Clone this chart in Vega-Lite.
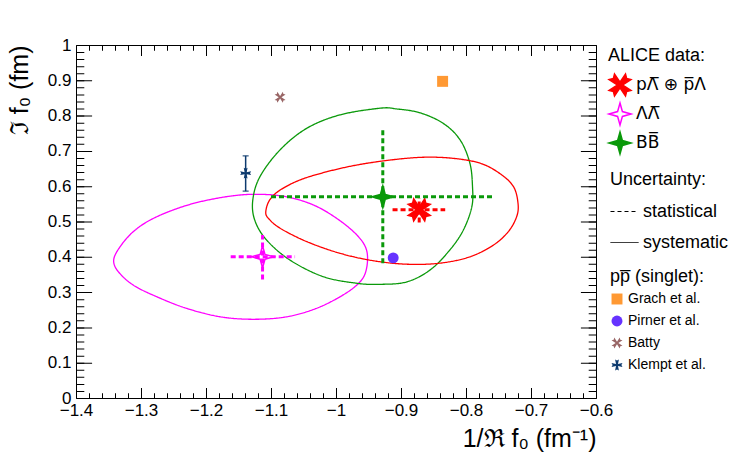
{
  "$schema": "https://vega.github.io/schema/vega-lite/v6.json",
  "width": 520,
  "height": 353,
  "autosize": {"type": "none"},
  "padding": {"left": 76, "top": 45, "right": 151, "bottom": 69},
  "background": "white",
  "config": {
    "font": "Liberation Sans",
    "view": {"stroke": "black", "strokeWidth": 1},
    "axis": {"grid": false, "domain": false, "labelColor": "black", "titleColor": "black", "tickColor": "black", "labelFont": "Liberation Sans", "titleFont": "Liberation Sans", "titleFontWeight": "normal", "labelFontSize": 17, "titleFontSize": 25, "labelFlush": false, "labelOverlap": false, "labelBound": false},
    "legend": {"titleFont": "Liberation Sans", "labelFont": "Liberation Sans", "titleFontSize": 18, "titleFontWeight": "normal", "titleColor": "black", "labelColor": "black", "labelFontSize": 18, "offset": 10, "padding": 2}
  },
  "datasets": {
    "ell": [
      {"s": "\u039b\u039b\u0305", "i": 1, "x": -1.342, "y": 0.391},
      {"s": "\u039b\u039b\u0305", "i": 2, "x": -1.332, "y": 0.429},
      {"s": "\u039b\u039b\u0305", "i": 3, "x": -1.312, "y": 0.471},
      {"s": "\u039b\u039b\u0305", "i": 4, "x": -1.286, "y": 0.504},
      {"s": "\u039b\u039b\u0305", "i": 5, "x": -1.250, "y": 0.533},
      {"s": "\u039b\u039b\u0305", "i": 6, "x": -1.209, "y": 0.556},
      {"s": "\u039b\u039b\u0305", "i": 7, "x": -1.158, "y": 0.573},
      {"s": "\u039b\u039b\u0305", "i": 8, "x": -1.117, "y": 0.577},
      {"s": "\u039b\u039b\u0305", "i": 9, "x": -1.076, "y": 0.570},
      {"s": "\u039b\u039b\u0305", "i": 10, "x": -1.035, "y": 0.547},
      {"s": "\u039b\u039b\u0305", "i": 11, "x": -0.999, "y": 0.509},
      {"s": "\u039b\u039b\u0305", "i": 12, "x": -0.968, "y": 0.462},
      {"s": "\u039b\u039b\u0305", "i": 13, "x": -0.953, "y": 0.419},
      {"s": "\u039b\u039b\u0305", "i": 14, "x": -0.953, "y": 0.367},
      {"s": "\u039b\u039b\u0305", "i": 15, "x": -0.963, "y": 0.329},
      {"s": "\u039b\u039b\u0305", "i": 16, "x": -0.989, "y": 0.292},
      {"s": "\u039b\u039b\u0305", "i": 17, "x": -1.030, "y": 0.254},
      {"s": "\u039b\u039b\u0305", "i": 18, "x": -1.076, "y": 0.230},
      {"s": "\u039b\u039b\u0305", "i": 19, "x": -1.127, "y": 0.223},
      {"s": "\u039b\u039b\u0305", "i": 20, "x": -1.178, "y": 0.230},
      {"s": "\u039b\u039b\u0305", "i": 21, "x": -1.230, "y": 0.254},
      {"s": "\u039b\u039b\u0305", "i": 22, "x": -1.276, "y": 0.287},
      {"s": "\u039b\u039b\u0305", "i": 23, "x": -1.312, "y": 0.320},
      {"s": "\u039b\u039b\u0305", "i": 24, "x": -1.335, "y": 0.358},
      {"s": "BB\u0305", "i": 1, "x": -0.932, "y": 0.821},
      {"s": "BB\u0305", "i": 2, "x": -0.994, "y": 0.802},
      {"s": "BB\u0305", "i": 3, "x": -1.045, "y": 0.764},
      {"s": "BB\u0305", "i": 4, "x": -1.086, "y": 0.703},
      {"s": "BB\u0305", "i": 5, "x": -1.117, "y": 0.627},
      {"s": "BB\u0305", "i": 6, "x": -1.128, "y": 0.561},
      {"s": "BB\u0305", "i": 7, "x": -1.125, "y": 0.504},
      {"s": "BB\u0305", "i": 8, "x": -1.107, "y": 0.448},
      {"s": "BB\u0305", "i": 9, "x": -1.071, "y": 0.391},
      {"s": "BB\u0305", "i": 10, "x": -1.020, "y": 0.344},
      {"s": "BB\u0305", "i": 11, "x": -0.968, "y": 0.325},
      {"s": "BB\u0305", "i": 12, "x": -0.932, "y": 0.322},
      {"s": "BB\u0305", "i": 13, "x": -0.891, "y": 0.329},
      {"s": "BB\u0305", "i": 14, "x": -0.855, "y": 0.363},
      {"s": "BB\u0305", "i": 15, "x": -0.825, "y": 0.419},
      {"s": "BB\u0305", "i": 16, "x": -0.804, "y": 0.476},
      {"s": "BB\u0305", "i": 17, "x": -0.791, "y": 0.542},
      {"s": "BB\u0305", "i": 18, "x": -0.790, "y": 0.599},
      {"s": "BB\u0305", "i": 19, "x": -0.794, "y": 0.665},
      {"s": "BB\u0305", "i": 20, "x": -0.809, "y": 0.731},
      {"s": "BB\u0305", "i": 21, "x": -0.835, "y": 0.778},
      {"s": "BB\u0305", "i": 22, "x": -0.871, "y": 0.808},
      {"s": "BB\u0305", "i": 23, "x": -0.907, "y": 0.819},
      {"s": "p\u039b\u0305 \u2295 p\u0305\u039b", "i": 1, "x": -1.108, "y": 0.528},
      {"s": "p\u039b\u0305 \u2295 p\u0305\u039b", "i": 2, "x": -1.102, "y": 0.561},
      {"s": "p\u039b\u0305 \u2295 p\u0305\u039b", "i": 3, "x": -1.086, "y": 0.589},
      {"s": "p\u039b\u0305 \u2295 p\u0305\u039b", "i": 4, "x": -1.055, "y": 0.618},
      {"s": "p\u039b\u0305 \u2295 p\u0305\u039b", "i": 5, "x": -1.014, "y": 0.641},
      {"s": "p\u039b\u0305 \u2295 p\u0305\u039b", "i": 6, "x": -0.968, "y": 0.660},
      {"s": "p\u039b\u0305 \u2295 p\u0305\u039b", "i": 7, "x": -0.917, "y": 0.674},
      {"s": "p\u039b\u0305 \u2295 p\u0305\u039b", "i": 8, "x": -0.866, "y": 0.682},
      {"s": "p\u039b\u0305 \u2295 p\u0305\u039b", "i": 9, "x": -0.820, "y": 0.679},
      {"s": "p\u039b\u0305 \u2295 p\u0305\u039b", "i": 10, "x": -0.778, "y": 0.665},
      {"s": "p\u039b\u0305 \u2295 p\u0305\u039b", "i": 11, "x": -0.748, "y": 0.636},
      {"s": "p\u039b\u0305 \u2295 p\u0305\u039b", "i": 12, "x": -0.727, "y": 0.599},
      {"s": "p\u039b\u0305 \u2295 p\u0305\u039b", "i": 13, "x": -0.720, "y": 0.552},
      {"s": "p\u039b\u0305 \u2295 p\u0305\u039b", "i": 14, "x": -0.722, "y": 0.514},
      {"s": "p\u039b\u0305 \u2295 p\u0305\u039b", "i": 15, "x": -0.735, "y": 0.471},
      {"s": "p\u039b\u0305 \u2295 p\u0305\u039b", "i": 16, "x": -0.758, "y": 0.433},
      {"s": "p\u039b\u0305 \u2295 p\u0305\u039b", "i": 17, "x": -0.794, "y": 0.400},
      {"s": "p\u039b\u0305 \u2295 p\u0305\u039b", "i": 18, "x": -0.840, "y": 0.382},
      {"s": "p\u039b\u0305 \u2295 p\u0305\u039b", "i": 19, "x": -0.891, "y": 0.379},
      {"s": "p\u039b\u0305 \u2295 p\u0305\u039b", "i": 20, "x": -0.943, "y": 0.389},
      {"s": "p\u039b\u0305 \u2295 p\u0305\u039b", "i": 21, "x": -0.994, "y": 0.410},
      {"s": "p\u039b\u0305 \u2295 p\u0305\u039b", "i": 22, "x": -1.045, "y": 0.443},
      {"s": "p\u039b\u0305 \u2295 p\u0305\u039b", "i": 23, "x": -1.086, "y": 0.481},
      {"s": "p\u039b\u0305 \u2295 p\u0305\u039b", "i": 24, "x": -1.104, "y": 0.509}
    ],
    "alice": [
      {"s": "p\u039b\u0305 \u2295 p\u0305\u039b", "x": -0.872, "y": 0.533, "xlo": -0.913, "xhi": -0.832, "ylo": 0.497, "yhi": 0.566},
      {"s": "\u039b\u039b\u0305", "x": -1.113, "y": 0.400, "xlo": -1.162, "xhi": -1.063, "ylo": 0.336, "yhi": 0.462},
      {"s": "BB\u0305", "x": -0.928, "y": 0.570, "xlo": -1.100, "xhi": -0.757, "ylo": 0.382, "yhi": 0.761}
    ],
    "ref": [
      {"r": "Grach et al.", "x": -0.836, "y": 0.897},
      {"r": "Pirner et al.", "x": -0.912, "y": 0.397},
      {"r": "Batty", "x": -1.086, "y": 0.852},
      {"r": "Klempt et al.", "x": -1.139, "y": 0.637, "ylo": 0.586, "yhi": 0.686}
    ]
  },
  "layer": [
    {
      "data": {"name": "alice"},
      "mark": {"type": "point", "filled": true, "opacity": 1, "size": 484, "strokeWidth": 1.5},
      "encoding": {
        "x": {"field": "x", "type": "quantitative", "scale": {"domain": [-1.4, -0.6], "nice": false, "zero": false},
          "axis": {"orient": "bottom", "offset": -5.25, "values": [-1.4, -0.6], "labels": true, "labelExpr": "''", "ticks": false, "title": null, "domain": true, "domainColor": "#000000", "domainWidth": 10.5, "domainDash": [1, 64], "domainDashOffset": 0.5}},
        "y": {"field": "y", "type": "quantitative", "scale": {"domain": [0, 1], "nice": false, "zero": false},
          "axis": {"orient": "left", "offset": -7.8, "values": [0, 1], "labels": true, "labelExpr": "''", "ticks": false, "title": null, "domain": true, "domainColor": "#000000", "domainWidth": 15.6, "domainDash": [1, 34.3], "domainDashOffset": 0.5}},
        "shape": {"field": "s", "type": "nominal",
          "scale": {"domain": ["p\u039b\u0305 \u2295 p\u0305\u039b", "\u039b\u039b\u0305", "BB\u0305"], "range": ["M0,-0.25 L0.5,-1 L0.6,-0.6 L1,-0.5 L0.25,0 L1,0.5 L0.6,0.6 L0.5,1 L0,0.25 L-0.5,1 L-0.6,0.6 L-1,0.5 L-0.25,0 L-1,-0.5 L-0.6,-0.6 L-0.5,-1 Z", "M0,-1 L0.22,-0.22 L1,0 L0.22,0.22 L0,1 L-0.22,0.22 L-1,0 L-0.22,-0.22 Z", "M0,-1 L0.22,-0.22 L1,0 L0.22,0.22 L0,1 L-0.22,0.22 L-1,0 L-0.22,-0.22 Z"]},
          "legend": {"title": "ALICE data:", "symbolSize": 484, "rowPadding": 1, "titlePadding": 8, "symbolStrokeWidth": 1.5, "labelFont": "DejaVu Sans", "labelFontSize": 17}},
        "fill": {"field": "s", "type": "nominal",
          "scale": {"domain": ["p\u039b\u0305 \u2295 p\u0305\u039b", "\u039b\u039b\u0305", "BB\u0305"], "range": ["#ff0000", "transparent", "#0a990a"]},
          "legend": {"title": "ALICE data:", "symbolSize": 484, "rowPadding": 1, "titlePadding": 8, "symbolStrokeWidth": 1.5, "labelFont": "DejaVu Sans", "labelFontSize": 17}},
        "stroke": {"field": "s", "type": "nominal",
          "scale": {"domain": ["p\u039b\u0305 \u2295 p\u0305\u039b", "\u039b\u039b\u0305", "BB\u0305"], "range": ["#ff0000", "#ff00ff", "#0a990a"]},
          "legend": {"title": "ALICE data:", "symbolSize": 484, "rowPadding": 1, "titlePadding": 8, "symbolStrokeWidth": 1.5, "labelFont": "DejaVu Sans", "labelFontSize": 17}}
      }
    },
    {
      "data": {"name": "ell"},
      "mark": {"type": "line", "interpolate": "cardinal-closed", "strokeWidth": 1.3},
      "encoding": {
        "x": {"field": "x", "type": "quantitative", "scale": {"domain": [-1.4, -0.6], "nice": false, "zero": false},
          "axis": {"orient": "bottom", "values": [-1.4, -1.3, -1.2, -1.1, -1, -0.9, -0.8, -0.7, -0.6], "format": ".1~f", "ticks": false, "labelPadding": 4, "title": "1/\u211c f\u2080 (fm\u207b\u00b9)", "titleAnchor": "end", "titlePadding": 8}},
        "y": {"field": "y", "type": "quantitative", "scale": {"domain": [0, 1], "nice": false, "zero": false},
          "axis": {"orient": "left", "values": [0, 0.1, 0.2, 0.3, 0.4, 0.5, 0.6, 0.7, 0.8, 0.9, 1], "format": ".1~f", "ticks": false, "labelPadding": 5, "title": "\u2111 f\u2080 (fm)", "titleAnchor": "end", "titlePadding": 15}},
        "order": {"field": "i", "type": "quantitative"},
        "stroke": {"field": "s", "type": "nominal", "scale": {"domain": ["p\u039b\u0305 \u2295 p\u0305\u039b", "\u039b\u039b\u0305", "BB\u0305"], "range": ["#ff0000", "#ff00ff", "#0a990a"]}, "legend": null},
        "strokeDash": {"datum": "systematic", "scale": {"domain": ["statistical", "systematic"], "range": [[4, 3], [1, 0]]},
          "legend": {"title": "Uncertainty:", "symbolType": "stroke", "symbolStrokeColor": "black", "symbolStrokeWidth": 1, "symbolSize": 784, "rowPadding": 7, "titlePadding": 8, "padding": 4}}
      }
    },
    {
      "data": {"name": "alice"},
      "mark": {"type": "rule", "strokeWidth": 3, "strokeDash": [5, 3]},
      "encoding": {
        "x": {"field": "xlo", "type": "quantitative", "scale": {"domain": [-1.4, -0.6], "nice": false, "zero": false},
          "axis": {"orient": "bottom", "offset": -2.65, "values": [-1.4, -0.6], "labels": true, "labelExpr": "''", "ticks": false, "title": null, "domain": true, "domainColor": "#000000", "domainWidth": 5.3, "domainDash": [1, 12], "domainDashOffset": 0.5}},
        "x2": {"field": "xhi"},
        "y": {"field": "y", "type": "quantitative", "scale": {"domain": [0, 1], "nice": false, "zero": false},
          "axis": {"orient": "left", "offset": -3.9, "values": [0, 1], "labels": true, "labelExpr": "''", "ticks": false, "title": null, "domain": true, "domainColor": "#000000", "domainWidth": 7.8, "domainDash": [1, 6.06], "domainDashOffset": 0.5}},
        "stroke": {"field": "s", "type": "nominal", "scale": {"domain": ["p\u039b\u0305 \u2295 p\u0305\u039b", "\u039b\u039b\u0305", "BB\u0305"], "range": ["#ff0000", "#ff00ff", "#0a990a"]}, "legend": null}
      }
    },
    {
      "data": {"name": "alice"},
      "mark": {"type": "rule", "strokeWidth": 3, "strokeDash": [5, 3]},
      "encoding": {
        "x": {"field": "x", "type": "quantitative", "scale": {"domain": [-1.4, -0.6], "nice": false, "zero": false},
          "axis": {"orient": "top", "offset": -5.25, "values": [-1.4, -0.6], "labels": true, "labelExpr": "''", "ticks": false, "title": null, "domain": true, "domainColor": "#000000", "domainWidth": 10.5, "domainDash": [1, 64], "domainDashOffset": 0.5}},
        "y": {"field": "ylo", "type": "quantitative", "scale": {"domain": [0, 1], "nice": false, "zero": false},
          "axis": {"orient": "right", "offset": -7.8, "values": [0, 1], "labels": true, "labelExpr": "''", "ticks": false, "title": null, "domain": true, "domainColor": "#000000", "domainWidth": 15.6, "domainDash": [1, 34.3], "domainDashOffset": 0.5}},
        "y2": {"field": "yhi"},
        "stroke": {"field": "s", "type": "nominal", "scale": {"domain": ["p\u039b\u0305 \u2295 p\u0305\u039b", "\u039b\u039b\u0305", "BB\u0305"], "range": ["#ff0000", "#ff00ff", "#0a990a"]}, "legend": null}
      }
    },
    {
      "data": {"name": "ref"},
      "transform": [{"filter": "isValid(datum.ylo)"}],
      "mark": {"type": "errorbar", "ticks": {"size": 6}, "color": "#0d3a6e", "thickness": 1.5},
      "encoding": {
        "x": {"field": "x", "type": "quantitative", "scale": {"domain": [-1.4, -0.6], "nice": false, "zero": false}, "axis": null},
        "y": {"field": "ylo", "type": "quantitative", "scale": {"domain": [0, 1], "nice": false, "zero": false}, "axis": null},
        "y2": {"field": "yhi"}
      }
    },
    {
      "data": {"name": "ref"},
      "mark": {"type": "point", "filled": true, "opacity": 1, "size": 120},
      "encoding": {
        "x": {"field": "x", "type": "quantitative", "scale": {"domain": [-1.4, -0.6], "nice": false, "zero": false},
          "axis": {"orient": "top", "offset": -2.65, "values": [-1.4, -0.6], "labels": true, "labelExpr": "''", "ticks": false, "title": null, "domain": true, "domainColor": "#000000", "domainWidth": 5.3, "domainDash": [1, 12], "domainDashOffset": 0.5}},
        "y": {"field": "y", "type": "quantitative", "scale": {"domain": [0, 1], "nice": false, "zero": false},
          "axis": {"orient": "right", "offset": -3.9, "values": [0, 1], "labels": true, "labelExpr": "''", "ticks": false, "title": null, "domain": true, "domainColor": "#000000", "domainWidth": 7.8, "domainDash": [1, 6.06], "domainDashOffset": 0.5}},
        "shape": {"field": "r", "type": "nominal",
          "scale": {"domain": ["Grach et al.", "Pirner et al.", "Batty", "Klempt et al."], "range": ["square", "circle", "M0,-0.25 L0.5,-1 L0.6,-0.6 L1,-0.5 L0.25,0 L1,0.5 L0.6,0.6 L0.5,1 L0,0.25 L-0.5,1 L-0.6,0.6 L-1,0.5 L-0.25,0 L-1,-0.5 L-0.6,-0.6 L-0.5,-1 Z", "M-0.35,-1 L0,-0.8 L0.35,-1 L0.18,-0.18 L1,-0.35 L0.8,0 L1,0.35 L0.18,0.18 L0.35,1 L0,0.8 L-0.35,1 L-0.18,0.18 L-1,0.35 L-0.8,0 L-1,-0.35 L-0.18,-0.18 Z"]},
          "legend": {"title": "pp\u0305 (singlet):", "symbolSize": 120, "labelFontSize": 14, "rowPadding": 8, "titlePadding": 6, "padding": 4}},
        "color": {"field": "r", "type": "nominal",
          "scale": {"domain": ["Grach et al.", "Pirner et al.", "Batty", "Klempt et al."], "range": ["#ff9933", "#6633ff", "#996666", "#0d3a6e"]},
          "legend": {"title": "pp\u0305 (singlet):", "symbolSize": 120, "labelFontSize": 14, "rowPadding": 8, "titlePadding": 6, "padding": 4}}
      }
    }
  ],
  "resolve": {
    "scale": {"color": "independent", "fill": "independent", "stroke": "independent", "shape": "independent", "strokeDash": "independent"},
    "axis": {"x": "independent", "y": "independent"}
  }
}
